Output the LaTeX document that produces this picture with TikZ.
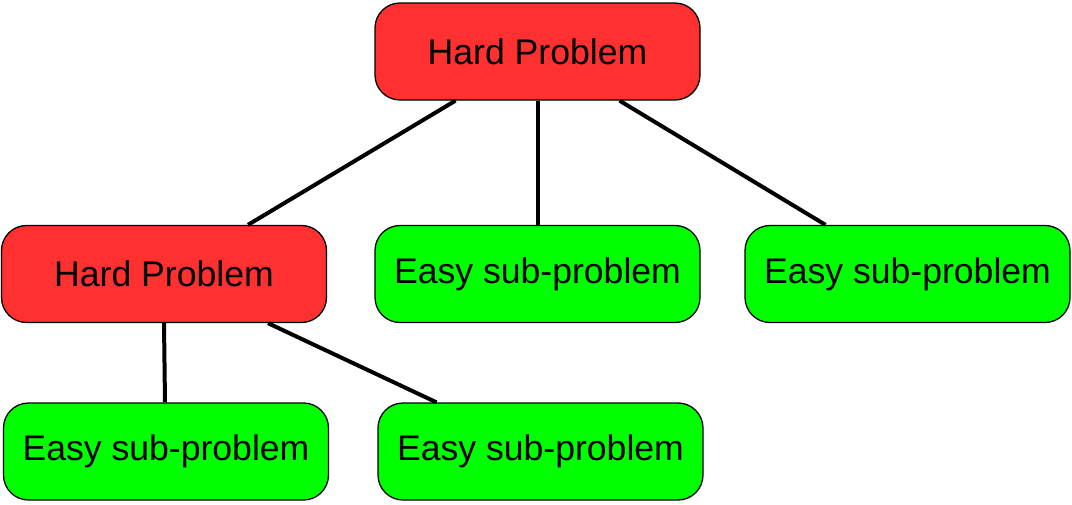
\documentclass[tikz,border=0pt]{standalone}
\usepackage{fontspec}
\setmainfont{Liberation Sans}
\usetikzlibrary{calc}
\definecolor{hardred}{HTML}{FF3030}
\definecolor{easygreen}{HTML}{00FF00}
\tikzset{
  box/.style={draw=black, line width=1.3pt, rounded corners=25pt, minimum width=325pt, minimum height=97pt, inner sep=0pt, font=\fontsize{35.6}{40}\selectfont},
  hard/.style={box, fill=hardred},
  easy/.style={box, fill=easygreen},
  link/.style={line width=4pt, black}
}
\begin{document}
\begin{tikzpicture}[x=1pt,y=-1pt]
\useasboundingbox (0,0) rectangle (1072,504);
\node[hard] (top) at (537.5,51.5) {Hard Problem};
\node[hard] (lh) at (164,274) {Hard Problem};
\node[easy] (me) at (537.5,274) {Easy sub-problem};
\node[easy] (re) at (907.5,274) {Easy sub-problem};
\node[easy] (bl) at (166,451.5) {Easy sub-problem};
\node[easy] (bm) at (540.5,451.5) {Easy sub-problem};
\draw[link] ($(top.south)+(-82,0)$) -- ($(lh.north)+(84,0)$);
\draw[link] (top.south) -- (me.north);
\draw[link] ($(top.south)+(82,0)$) -- ($(re.north)+(-82,0)$);
\draw[link] (lh.south) -- ($(bl.north)+(-1,0)$);
\draw[link] ($(lh.south)+(104,0)$) -- ($(bm.north)+(-104,0)$);
\end{tikzpicture}
\end{document}
